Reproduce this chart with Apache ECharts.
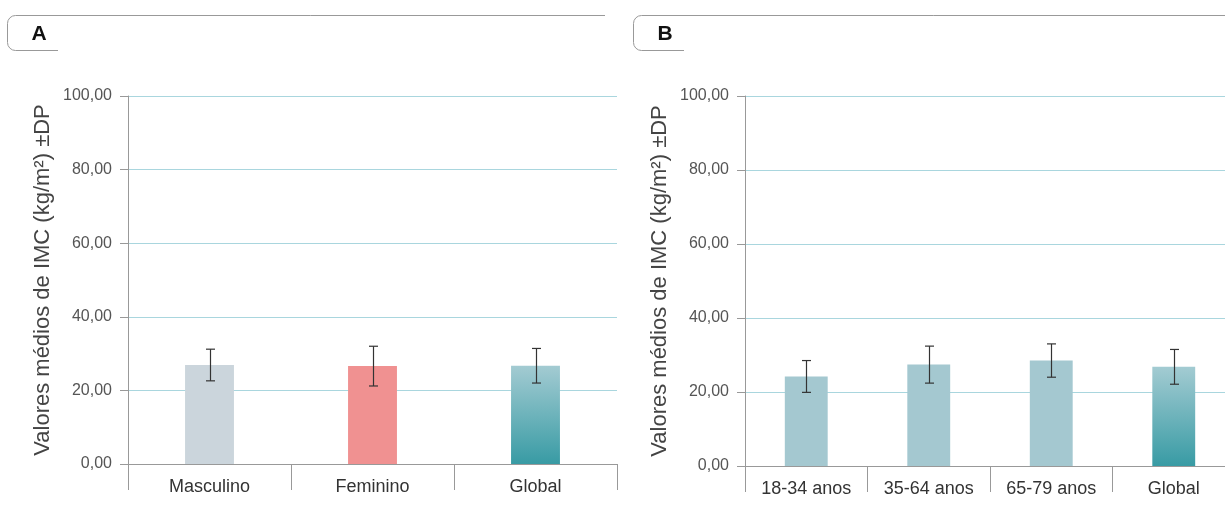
<!DOCTYPE html>
<html>
<head>
<meta charset="utf-8">
<script src="https://cdn.jsdelivr.net/npm/echarts@6/dist/echarts.min.js"></script>
<style>html,body{margin:0;padding:0;background:#fff;}#c{width:1225px;height:505px;}</style>
</head>
<body>
<div id="c"></div>
<script>
// ---- data ----
var catA = ['Masculino', 'Feminino', 'Global'];
var meanA = [26.9, 26.6, 26.7];
var sdA = [4.3, 5.4, 4.7];
var catB = ['18-34 anos', '35-64 anos', '65-79 anos', 'Global'];
var meanB = [24.2, 27.4, 28.5, 26.8];
var sdB = [4.3, 5.0, 4.5, 4.7];
var yTicks = [0, 20, 40, 60, 80, 100];
var yName = 'Valores médios de IMC (kg/m²) ±DP';
var panelLabels = ['A', 'B'];

var FONT = '"Liberation Sans", Arial, sans-serif';
var globalGrad = {type: 'linear', x: 0, y: 0, x2: 0, y2: 1, colorStops: [
  {offset: 0, color: '#a3cbd2'}, {offset: 1, color: '#389ba4'}
]};
var colorsA = ['#cbd5dc', '#f09191', globalGrad];
var colorsB = ['#a4c8d0', '#a4c8d0', '#a4c8d0', globalGrad];

function yAxis(idx) {
  return {
    gridIndex: idx, type: 'value', min: yTicks[0], max: yTicks[yTicks.length - 1], interval: 20,
    name: yName, nameLocation: 'middle', nameGap: 74,
    nameTextStyle: {fontFamily: FONT, fontSize: 22, color: '#444'},
    axisLine: {show: true, lineStyle: {color: '#999', width: 1}},
    axisTick: {show: true, length: 8, lineStyle: {color: '#999'}},
    axisLabel: {fontFamily: FONT, fontSize: 16, color: '#555', margin: 16,
      formatter: function (v) { return v.toFixed(2).replace('.', ','); }},
    splitLine: {show: true, lineStyle: {color: '#a9d6de', width: 1}}
  };
}
function xAxis(idx, cats) {
  return {
    gridIndex: idx, type: 'category', data: cats,
    axisLine: {show: true, lineStyle: {color: '#999', width: 1}},
    axisTick: {show: true, length: 26, interval: 0, alignWithLabel: false, lineStyle: {color: '#999'}},
    axisLabel: {fontFamily: FONT, fontSize: 18, color: '#333', margin: 14, interval: 0}
  };
}
function errSeries(idx, means, sds) {
  return {
    type: 'custom', xAxisIndex: idx, yAxisIndex: idx, z: 10,
    data: means.map(function (m, i) { return [i, m - sds[i], m + sds[i]]; }),
    renderItem: function (params, api) {
      var lo = api.coord([api.value(0), api.value(1)]);
      var hi = api.coord([api.value(0), api.value(2)]);
      var x = Math.round(lo[0]) + 0.5, w = 4.5;
      var st = {stroke: '#333', lineWidth: 1.2};
      return {type: 'group', children: [
        {type: 'line', shape: {x1: x, y1: hi[1], x2: x, y2: lo[1]}, style: st},
        {type: 'line', shape: {x1: x - w, y1: hi[1], x2: x + w, y2: hi[1]}, style: st},
        {type: 'line', shape: {x1: x - w, y1: lo[1], x2: x + w, y2: lo[1]}, style: st}
      ]};
    }
  };
}
function tab(x0, xEnd, xBottomEnd, label) {
  var t = 15.5, b = 50.5, r = 8, l = x0 + 0.5;
  var st = {stroke: '#999', lineWidth: 1, fill: null};
  return [
    {type: 'polyline', shape: {points: [[xEnd, t], [l + r, t]]}, style: st},
    {type: 'arc', shape: {cx: l + r, cy: t + r, r: r, startAngle: Math.PI, endAngle: Math.PI * 1.5, clockwise: true}, style: st},
    {type: 'polyline', shape: {points: [[l, t + r], [l, b - r]]}, style: st},
    {type: 'arc', shape: {cx: l + r, cy: b - r, r: r, startAngle: Math.PI * 0.5, endAngle: Math.PI, clockwise: true}, style: st},
    {type: 'polyline', shape: {points: [[l + r, b], [xBottomEnd, b]]}, style: st},
    {type: 'text', x: x0 + 32, y: 34, style: {text: label, font: 'bold 21px ' + FONT, fill: '#111', align: 'center', verticalAlign: 'middle'}}
  ];
}

var chart = echarts.init(document.getElementById('c'));
chart.setOption({
  animation: false,
  grid: [
    {left: 128, top: 96, width: 489, height: 368, outerBoundsMode: 'none'},
    {left: 745, top: 96, width: 490, height: 370, outerBoundsMode: 'none'}
  ],
  xAxis: [xAxis(0, catA), xAxis(1, catB)],
  yAxis: [yAxis(0), yAxis(1)],
  series: [
    {type: 'bar', xAxisIndex: 0, yAxisIndex: 0, barWidth: '30%',
      data: meanA.map(function (v, i) { return {value: v, itemStyle: {color: colorsA[i]}}; })},
    {type: 'bar', xAxisIndex: 1, yAxisIndex: 1, barWidth: '35%',
      data: meanB.map(function (v, i) { return {value: v, itemStyle: {color: colorsB[i]}}; })},
    errSeries(0, meanA, sdA),
    errSeries(1, meanB, sdB)
  ],
  graphic: tab(7, 605, 58, panelLabels[0]).concat(tab(633, 1225, 684, panelLabels[1]))
});
</script>
</body>
</html>
